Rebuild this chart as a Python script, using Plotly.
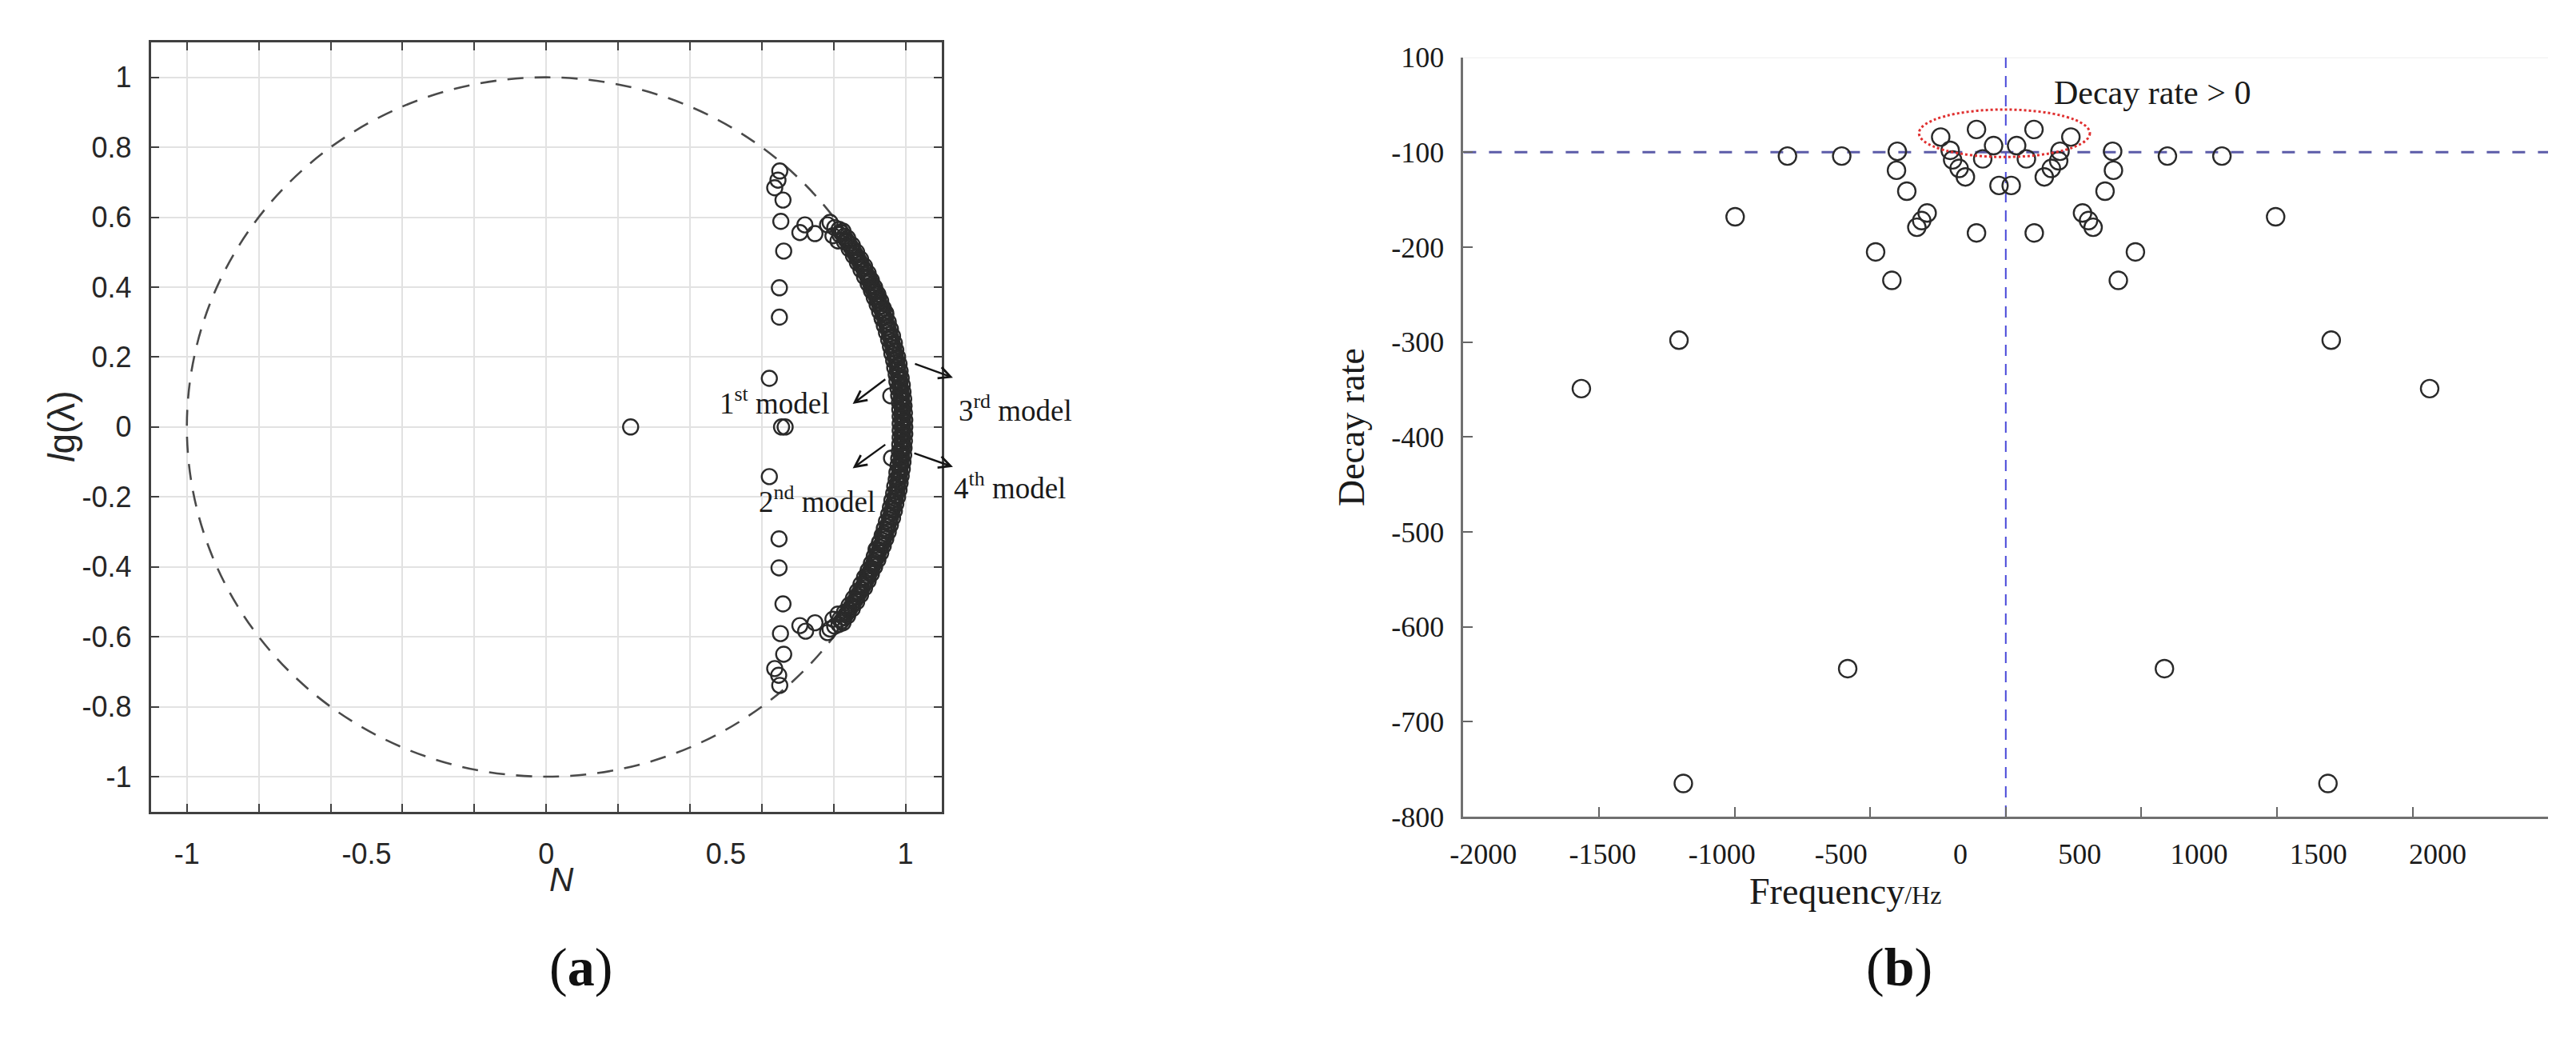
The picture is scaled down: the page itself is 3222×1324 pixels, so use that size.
import plotly.graph_objects as go

W, H = 3222, 1324

# ---------------- panel (a) data : N vs lg(lambda) ----------------
# dense ring of eigenvalues along the unit circle (three interleaved rows, upper and lower half)
ring_up_N = [0.803, 0.826, 0.817, 0.839, 0.830, 0.852, 0.843, 0.864, 0.855, 0.875,
             0.866, 0.886, 0.876, 0.896, 0.886, 0.905, 0.896, 0.914, 0.905, 0.923,
             0.913, 0.931, 0.921, 0.938, 0.928, 0.945, 0.935, 0.952, 0.941, 0.958,
             0.947, 0.964, 0.953, 0.969, 0.958, 0.973, 0.962, 0.978, 0.967, 0.982,
             0.970, 0.985, 0.974, 0.988, 0.976, 0.991, 0.979, 0.993, 0.981, 0.995,
             0.983, 0.996, 0.984, 0.997, 0.985, 0.998, 0.985, 0.998]
ring_up_lg = [0.570, 0.560, 0.550, 0.540, 0.530, 0.520, 0.510, 0.500, 0.490, 0.480,
              0.470, 0.460, 0.450, 0.440, 0.430, 0.420, 0.410, 0.400, 0.390, 0.380,
              0.370, 0.360, 0.350, 0.340, 0.330, 0.320, 0.310, 0.300, 0.290, 0.280,
              0.270, 0.260, 0.250, 0.240, 0.230, 0.220, 0.210, 0.200, 0.190, 0.180,
              0.170, 0.160, 0.150, 0.140, 0.130, 0.120, 0.110, 0.100, 0.090, 0.080,
              0.070, 0.060, 0.050, 0.040, 0.030, 0.020, 0.010, 0.000]
ring_dn_N = [0.985, 0.998, 0.985, 0.997, 0.984, 0.996, 0.983, 0.995, 0.981, 0.993,
             0.979, 0.991, 0.976, 0.988, 0.974, 0.985, 0.970, 0.982, 0.967, 0.978,
             0.962, 0.973, 0.958, 0.969, 0.953, 0.964, 0.947, 0.958, 0.941, 0.952,
             0.935, 0.945, 0.928, 0.938, 0.921, 0.931, 0.913, 0.923, 0.905, 0.914,
             0.896, 0.905, 0.886, 0.896, 0.876, 0.886, 0.866, 0.875, 0.855, 0.864,
             0.843, 0.852, 0.830, 0.839, 0.817, 0.826, 0.803]
ring_dn_lg = [-0.010, -0.020, -0.030, -0.040, -0.050, -0.060, -0.070, -0.080, -0.090, -0.100,
              -0.110, -0.120, -0.130, -0.140, -0.150, -0.160, -0.170, -0.180, -0.190, -0.200,
              -0.210, -0.220, -0.230, -0.240, -0.250, -0.260, -0.270, -0.280, -0.290, -0.300,
              -0.310, -0.320, -0.330, -0.340, -0.350, -0.360, -0.370, -0.380, -0.390, -0.400,
              -0.410, -0.420, -0.430, -0.440, -0.450, -0.460, -0.470, -0.480, -0.490, -0.500,
              -0.510, -0.520, -0.530, -0.540, -0.550, -0.560, -0.570]
ring_mid_up_N = [0.815, 0.822, 0.829, 0.835, 0.842, 0.848, 0.854, 0.860, 0.865, 0.871,
                 0.876, 0.882, 0.887, 0.892, 0.896, 0.901, 0.906, 0.910, 0.914, 0.918,
                 0.922, 0.926, 0.930, 0.934, 0.937, 0.941, 0.944, 0.947, 0.950, 0.953,
                 0.956, 0.959, 0.961, 0.964, 0.966, 0.968, 0.971, 0.973, 0.975, 0.977,
                 0.978, 0.980, 0.981, 0.983, 0.984, 0.985, 0.987, 0.988, 0.988, 0.989,
                 0.990, 0.991, 0.991, 0.991, 0.992, 0.992, 0.992]
ring_mid_up_lg = [0.565, 0.555, 0.545, 0.535, 0.525, 0.515, 0.505, 0.495, 0.485, 0.475,
                  0.465, 0.455, 0.445, 0.435, 0.425, 0.415, 0.405, 0.395, 0.385, 0.375,
                  0.365, 0.355, 0.345, 0.335, 0.325, 0.315, 0.305, 0.295, 0.285, 0.275,
                  0.265, 0.255, 0.245, 0.235, 0.225, 0.215, 0.205, 0.195, 0.185, 0.175,
                  0.165, 0.155, 0.145, 0.135, 0.125, 0.115, 0.105, 0.095, 0.085, 0.075,
                  0.065, 0.055, 0.045, 0.035, 0.025, 0.015, 0.005]
ring_mid_dn_N = [0.992, 0.992, 0.992, 0.991, 0.991, 0.991, 0.990, 0.989, 0.988, 0.988,
                 0.987, 0.985, 0.984, 0.983, 0.981, 0.980, 0.978, 0.977, 0.975, 0.973,
                 0.971, 0.968, 0.966, 0.964, 0.961, 0.959, 0.956, 0.953, 0.950, 0.947,
                 0.944, 0.941, 0.937, 0.934, 0.930, 0.926, 0.922, 0.918, 0.914, 0.910,
                 0.906, 0.901, 0.896, 0.892, 0.887, 0.882, 0.876, 0.871, 0.865, 0.860,
                 0.854, 0.848, 0.842, 0.835, 0.829, 0.822, 0.815]
ring_mid_dn_lg = [-0.005, -0.015, -0.025, -0.035, -0.045, -0.055, -0.065, -0.075, -0.085, -0.095,
                  -0.105, -0.115, -0.125, -0.135, -0.145, -0.155, -0.165, -0.175, -0.185, -0.195,
                  -0.205, -0.215, -0.225, -0.235, -0.245, -0.255, -0.265, -0.275, -0.285, -0.295,
                  -0.305, -0.315, -0.325, -0.335, -0.345, -0.355, -0.365, -0.375, -0.385, -0.395,
                  -0.405, -0.415, -0.425, -0.435, -0.445, -0.455, -0.465, -0.475, -0.485, -0.495,
                  -0.505, -0.515, -0.525, -0.535, -0.545, -0.555, -0.565]
# extra overlapping points where the band looks thickest
blob_N = [0.945, 0.925, 0.915, 0.905, 0.935, 0.938, 0.928, 0.918, 0.922, 0.912, 0.932,
          0.900, 0.895, 0.903, 0.893]
blob_lg = [0.326, 0.370, 0.390, 0.400, 0.310, -0.310, -0.330, -0.350, -0.370, -0.390, 0.345,
           0.420, 0.430, -0.410, -0.425]

cap_N = [0.706, 0.720, 0.748, 0.783, 0.790, 0.798, 0.812,
         0.706, 0.722, 0.748, 0.783, 0.790, 0.798, 0.812]
cap_lg = [0.556, 0.578, 0.553, 0.578, 0.585, 0.547, 0.532,
          -0.568, -0.584, -0.560, -0.588, -0.578, -0.550, -0.535]

column_N = [0.650, 0.645, 0.636, 0.659, 0.653, 0.661, 0.649, 0.649, 0.621, 0.655,
            0.665, 0.621, 0.648, 0.648, 0.659, 0.652, 0.661, 0.636, 0.647, 0.650]
column_lg = [0.732, 0.706, 0.684, 0.649, 0.588, 0.503, 0.398, 0.314, 0.139, 0.000,
             0.000, -0.142, -0.320, -0.403, -0.506, -0.591, -0.650, -0.691, -0.710, -0.739]

model_N = [0.959, 0.961]
model_lg = [0.089, -0.089]

single_N = [0.235]
single_lg = [0.000]

unit_radius = 1.0

xa_gridvals = [-1.0, -0.8, -0.6, -0.4, -0.2, 0.0, 0.2, 0.4, 0.6, 0.8, 1.0]
xa_labelvals = [-1, -0.5, 0, 0.5, 1]
xa_labeltext = ["-1", "-0.5", "0", "0.5", "1"]
ya_vals = [-1.0, -0.8, -0.6, -0.4, -0.2, 0.0, 0.2, 0.4, 0.6, 0.8, 1.0]
ya_text = ["-1", "-0.8", "-0.6", "-0.4", "-0.2", "0", "0.2", "0.4", "0.6", "0.8", "1"]

# arrows (head N, head lg, tail N, tail lg)
arrow1 = (0.853, 0.066, 0.947, 0.139)
arrow2 = (0.853, -0.118, 0.947, -0.048)
arrow3 = (1.132, 0.141, 1.023, 0.182)
arrow4 = (1.132, -0.114, 1.021, -0.074)

# ---------------- panel (b) data : frequency vs decay rate ----------------
freq = [-1189, -583, -1565, -1205, -998, -480, -420, -108, -365, -403,
        -400, -805, -605, -290, -310, -328, -240, -108, -45, -205,
        -196, -85, -172, -149, -25,
        1188, 585, 1563, 1200, 995, 478, 415, 105, 366, 397,
        394, 797, 596, 283, 305, 322, 240, 104, 40, 200,
        195, 76, 168, 142, 20]
decay = [-765, -644, -349, -298, -168, -205, -235, -185, -141, -119,
         -99, -104, -104, -164, -172, -179, -84, -76, -93, -98,
         -108, -107, -117, -126, -135,
         -765, -644, -349, -298, -168, -205, -235, -185, -141, -119,
         -99, -104, -104, -164, -172, -179, -84, -76, -93, -99,
         -109, -107, -117, -126, -135]

xb_tickvals = [-2000, -1500, -1000, -500, 0, 500, 1000, 1500, 2000]
xb_ticktext = ["-2000", "-1500", "-1000", "-500", "0", "500", "1000", "1500", "2000"]
yb_tickvals = [0, -100, -200, -300, -400, -500, -600, -700, -800]
yb_ticktext = ["100", "-100", "-200", "-300", "-400", "-500", "-600", "-700", "-800"]

h_line_decay = -100
v_line_freq = 0
ellipse_freq = (-320, 310)
ellipse_decay = (-105, -55)


def px(x):
    return x / W


def py(y):
    return 1 - y / H


SANS = "Liberation Sans"
SERIF = "Liberation Serif"
DARK = "#262626"

fig = go.Figure()

mk_a = dict(symbol="circle-open", size=19, color="#2a2a2a", line=dict(width=2.4, color="#2a2a2a"))
for xs, ys in [(ring_up_N, ring_up_lg), (ring_dn_N, ring_dn_lg),
               (ring_mid_up_N, ring_mid_up_lg), (ring_mid_dn_N, ring_mid_dn_lg),
               (blob_N, blob_lg), (cap_N, cap_lg), (column_N, column_lg),
               (model_N, model_lg), (single_N, single_lg)]:
    fig.add_trace(go.Scatter(x=xs, y=ys, mode="markers", marker=mk_a,
                             xaxis="x", yaxis="y", showlegend=False, hoverinfo="skip"))
fig.add_trace(go.Scatter(x=[None], y=[None], xaxis="x3", yaxis="y", showlegend=False))

mk_b = dict(symbol="circle-open", size=22, color="#2a2a2a", line=dict(width=2.4, color="#2a2a2a"))
fig.add_trace(go.Scatter(x=freq, y=decay, mode="markers", marker=mk_b,
                         xaxis="x2", yaxis="y2", showlegend=False, hoverinfo="skip"))
fig.add_trace(go.Scatter(x=[None], y=[None], xaxis="x4", yaxis="y2", showlegend=False))

shapes = [
    dict(type="circle", xref="x", yref="y", x0=-unit_radius, x1=unit_radius,
         y0=-unit_radius, y1=unit_radius, layer="between",
         line=dict(color="#4a4a4a", width=2.6, dash="20px,14px")),
    # faint top frame of panel (b)
    dict(type="line", xref="x2", yref="y2", x0=xb_tickvals[0], x1=xb_tickvals[-1],
         y0=yb_tickvals[0], y1=yb_tickvals[0], layer="below",
         line=dict(color="#eeeeee", width=2)),
    dict(type="line", xref="x2", yref="y2", x0=xb_tickvals[0], x1=xb_tickvals[-1],
         y0=h_line_decay, y1=h_line_decay, layer="below",
         line=dict(color="#5c5ca8", width=3, dash="16px,16px")),
    dict(type="line", xref="x2", yref="y2", x0=v_line_freq, x1=v_line_freq,
         y0=yb_tickvals[-1], y1=yb_tickvals[0], layer="below",
         line=dict(color="#4848d8", width=2, dash="14px,10px")),
    dict(type="circle", xref="x2", yref="y2", x0=ellipse_freq[0], x1=ellipse_freq[1],
         y0=ellipse_decay[0], y1=ellipse_decay[1], layer="above",
         line=dict(color="#e03030", width=3, dash="dot")),
]

ann = []
for hx, hy, tx, ty in [arrow1, arrow2, arrow3, arrow4]:
    ann.append(dict(x=hx, y=hy, ax=tx, ay=ty, xref="x", yref="y", axref="x", ayref="y",
                    text="", showarrow=True, arrowhead=5, arrowsize=1.2, arrowwidth=2.4,
                    arrowcolor="#151515"))
mfont = dict(family=SERIF, size=37, color="#1a1a1a")
ann += [
    dict(x=0.636, y=0.074, xref="x", yref="y", text="1<sup>st</sup> model", showarrow=False, font=mfont),
    dict(x=0.755, y=-0.207, xref="x", yref="y", text="2<sup>nd</sup> model", showarrow=False, font=mfont),
    dict(x=px(1260), y=py(507), xref="paper", yref="paper", text="3<sup>rd</sup> model", showarrow=False, font=mfont),
    dict(x=px(1253), y=py(607), xref="paper", yref="paper", text="4<sup>th</sup> model", showarrow=False, font=mfont),
    dict(x=px(32), y=py(530), xref="paper", yref="paper", text="<i>l</i>g(λ)", textangle=-90,
         showarrow=False, font=dict(family=SANS, size=46, color=DARK)),
    dict(x=px(672), y=py(1140), xref="paper", yref="paper", text="<i>N</i>",
         showarrow=False, font=dict(family=SANS, size=42, color=DARK)),
    dict(x=px(672), y=py(1268), xref="paper", yref="paper", text="(<b>a</b>)",
         showarrow=False, font=dict(family=SERIF, size=68, color="#111")),
    dict(x=px(1683), y=py(531), xref="paper", yref="paper", text="Decay rate", textangle=-90,
         showarrow=False, font=dict(family=SERIF, size=46, color="#1a1a1a")),
    dict(x=px(2426), y=py(1158), xref="paper", yref="paper",
         text="Frequency<span style='font-size:32px'>/Hz</span>",
         showarrow=False, font=dict(family=SERIF, size=46, color="#1a1a1a")),
    dict(x=px(2415), y=py(1268), xref="paper", yref="paper", text="(<b>b</b>)",
         showarrow=False, font=dict(family=SERIF, size=68, color="#111")),
    dict(x=172, y=-37, xref="x2", yref="y2", text="Decay rate &gt; 0", xanchor="left",
         showarrow=False, font=dict(family=SERIF, size=42, color="#1a1a1a")),
]

xa_dom = [px(172.7), px(1166.7)]
ya_dom = [py(1026.7), py(35)]
xb_dom = [px(1823), px(3187)]
yb_dom = [py(1033.3), py(54.3)]

tfa = dict(family=SANS, size=36, color=DARK)
tfb = dict(family=SERIF, size=36, color="#1a1a1a")

fig.update_layout(
    width=W, height=H, margin=dict(l=0, r=0, t=0, b=0),
    paper_bgcolor="white", plot_bgcolor="white", showlegend=False,
    shapes=shapes, annotations=ann,
    xaxis=dict(domain=xa_dom, anchor="y", range=[-1.1, 1.1], tickmode="array", tickvals=xa_gridvals,
               showticklabels=False, ticks="inside", ticklen=10, tickwidth=2, tickcolor="#404040",
               showgrid=True, gridcolor="#e2e2e2", gridwidth=2, zeroline=False,
               showline=True, linecolor="#404040", linewidth=3, mirror="ticks"),
    xaxis3=dict(overlaying="x", anchor="y", side="bottom", range=[-1.1, 1.1], tickmode="array",
                tickvals=xa_labelvals, ticktext=xa_labeltext, ticks="", showgrid=False,
                zeroline=False, showline=False, tickfont=tfa, ticklabelstandoff=28),
    yaxis=dict(domain=ya_dom, anchor="x", range=[-1.1, 1.1], tickmode="array", tickvals=ya_vals,
               ticktext=ya_text, tickfont=tfa, ticks="inside", ticklen=10, tickwidth=2,
               tickcolor="#404040", showgrid=True, gridcolor="#e2e2e2", gridwidth=2,
               zeroline=False, showline=True, linecolor="#404040", linewidth=3, mirror="ticks",
               ticklabelstandoff=14),
    xaxis2=dict(domain=xb_dom, anchor="y2", range=[-2000, 2000], tickmode="array",
                tickvals=xb_tickvals, showticklabels=False, ticks="inside", ticklen=12,
                tickwidth=2, tickcolor="#666", showgrid=False, zeroline=False,
                showline=True, linecolor="#707070", linewidth=3),
    xaxis4=dict(overlaying="x2", anchor="y2", side="bottom", range=[-2083.3, 2463.3],
                tickmode="array", tickvals=xb_tickvals, ticktext=xb_ticktext, ticks="",
                showgrid=False, zeroline=False, showline=False, tickfont=tfb,
                ticklabelstandoff=22),
    yaxis2=dict(domain=yb_dom, anchor="x2", range=[-800, 0], tickmode="array",
                tickvals=yb_tickvals, ticktext=yb_ticktext, tickfont=tfb, ticks="inside",
                ticklen=12, tickwidth=2, tickcolor="#666", showgrid=False, zeroline=False,
                showline=True, linecolor="#707070", linewidth=3, ticklabelstandoff=14),
)

fig.write_html("out.html", config={"displayModeBar": False},
               post_script="document.body.style.margin='0px';")
